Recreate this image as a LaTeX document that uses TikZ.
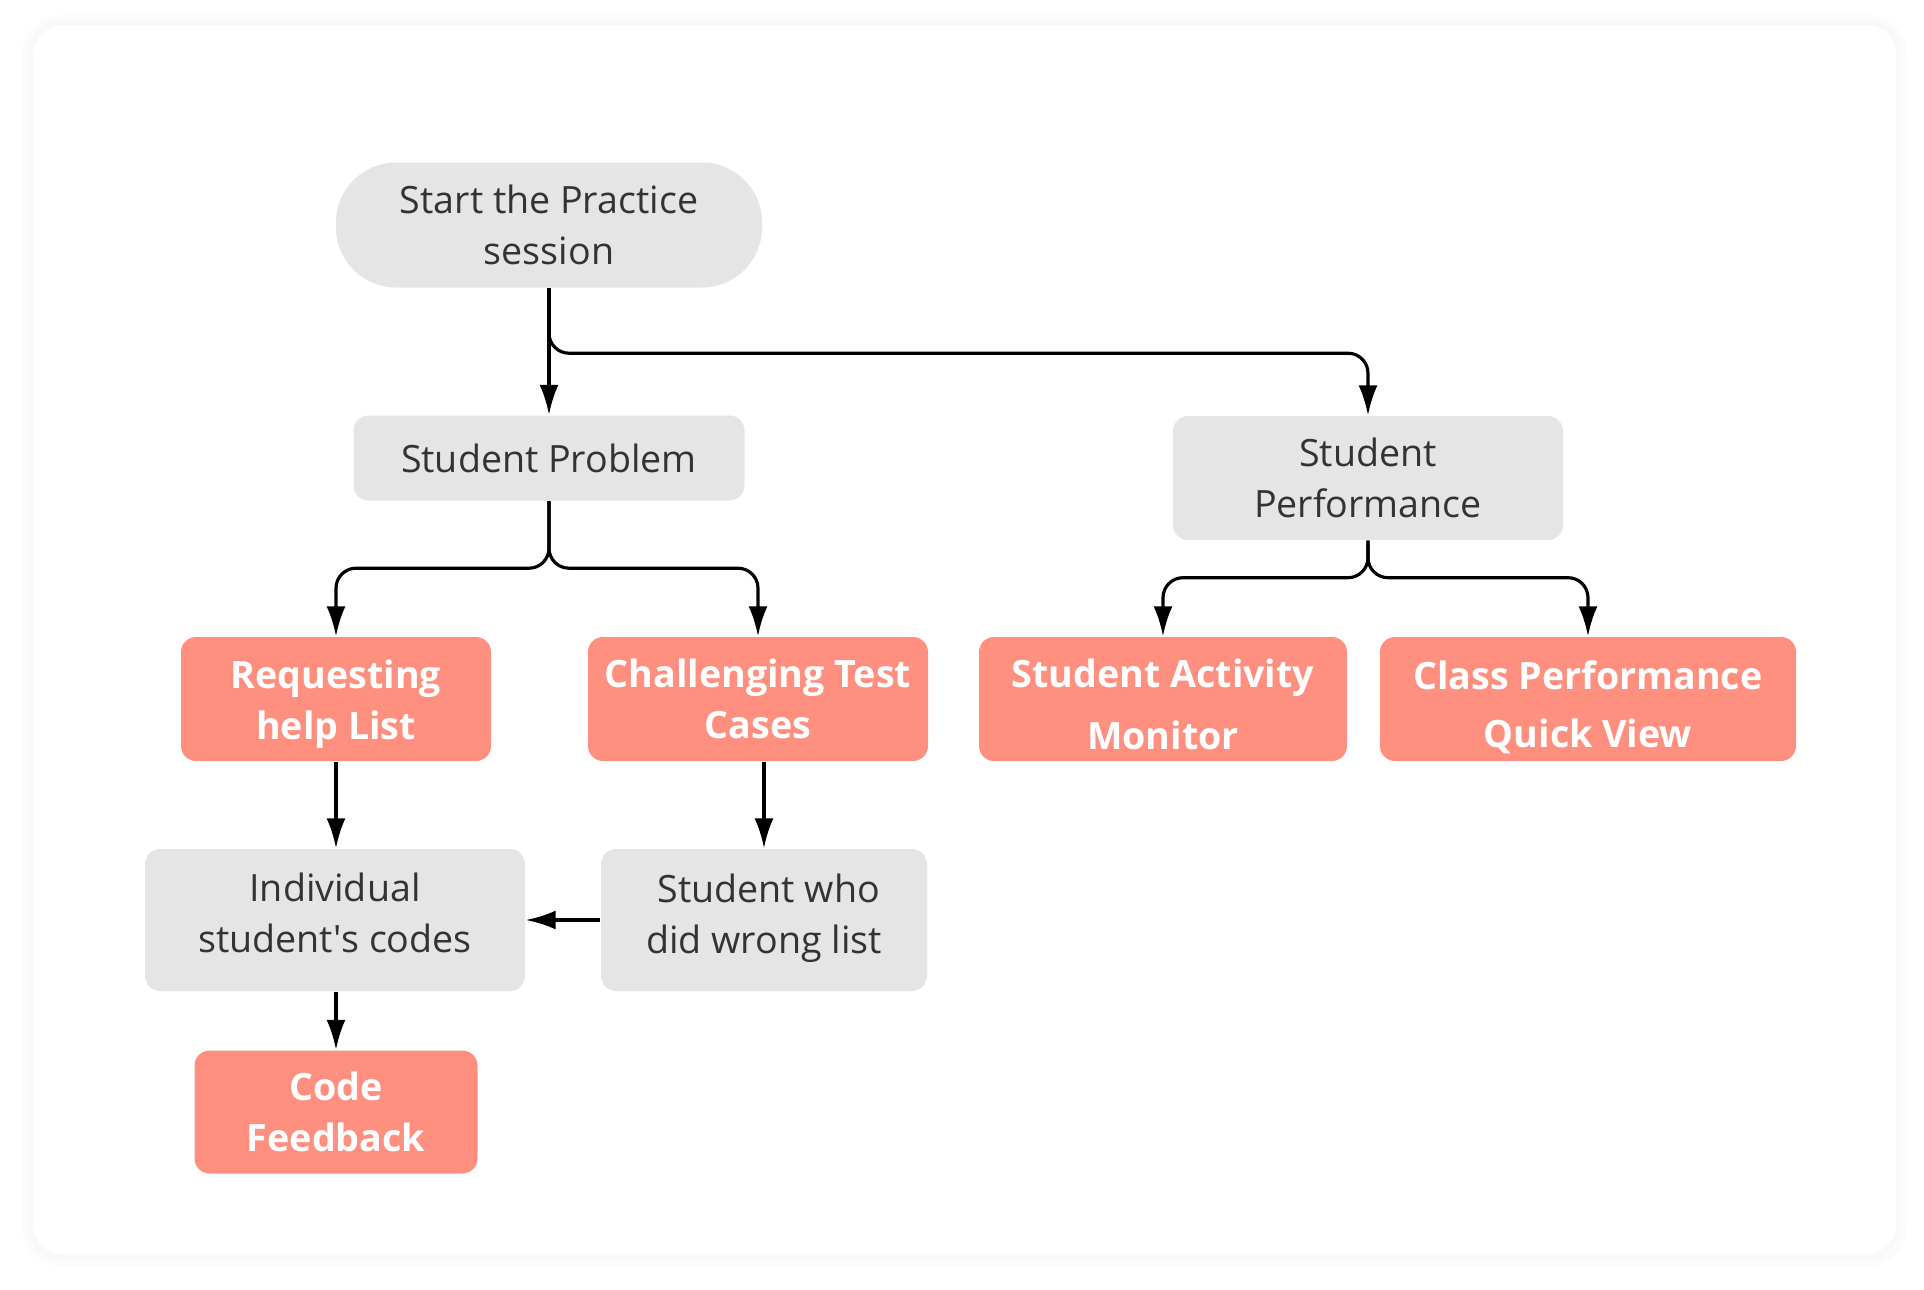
\documentclass[tikz,border=0pt]{standalone}
\usepackage{fontspec}
\setmainfont{Open Sans}
\usepackage{xcolor}
\definecolor{boxgray}{HTML}{E5E5E5}
\definecolor{boxsalmon}{HTML}{FF9080}
\definecolor{txtdark}{HTML}{333333}
\usetikzlibrary{arrows.meta,calc}

\begin{document}
\begin{tikzpicture}[
    grybox/.style={rectangle, rounded corners=1.5mm, fill=boxgray, text=txtdark,
      font=\fontsize{10.7}{14.6}\selectfont, align=center, inner sep=0pt},
    redbox/.style={rectangle, rounded corners=1.5mm, fill=boxsalmon, text=white,
      font=\fontsize{10.7}{14.6}\selectfont\bfseries, align=center, inner sep=0pt},
    pill/.style={grybox, rounded corners=6mm},
    arr/.style={-{Latex[length=3mm,width=1.9mm]}, line width=0.9pt, black},
    brarr/.style={arr, rounded corners=2mm}
  ]
    \useasboundingbox (0,0) rectangle (19.24,-12.90);
    \fill[white] (0,0) rectangle (19.24,-12.90);
    % card with soft shadow
    \fill[black!1.5, rounded corners=4mm] (0.22,-0.15) rectangle (19.07,-12.66);
    \fill[black!2.5, rounded corners=3.5mm] (0.28,-0.20) rectangle (19.01,-12.60);
    \fill[white, rounded corners=3mm] (0.33,-0.25) rectangle (18.96,-12.54);

    % top
    \node[pill, minimum width=4.26cm, minimum height=1.25cm] (start) at (5.49,-2.25)
      {Start the Practice\\session};

    % second row
    \node[grybox, minimum width=3.91cm, minimum height=0.85cm] (sprob) at (5.49,-4.58)
      {Student Problem};
    \node[grybox, minimum width=3.90cm, minimum height=1.24cm] (sperf) at (13.68,-4.78)
      {Student\\Performance};

    % salmon row
    \node[redbox, minimum width=3.10cm, minimum height=1.24cm] (reqhelp) at (3.36,-6.99)
      {\rule{0pt}{11pt}Requesting\\help List};
    \node[redbox, minimum width=3.40cm, minimum height=1.24cm] (chall) at (7.58,-6.99)
      {Challenging Test\\Cases};
    \node[redbox, minimum width=3.68cm, minimum height=1.24cm] (sact) at (11.63,-6.99)
      {\rule{0pt}{11pt}Student Activity\\[3pt]Monitor};
    \node[redbox, minimum width=4.16cm, minimum height=1.24cm] (cperf) at (15.88,-6.99)
      {\rule{0pt}{13pt}Class Performance\\[2pt]Quick View};

    % lower rows
    \node[grybox, minimum width=3.80cm, minimum height=1.42cm] (indiv) at (3.35,-9.20)
      {Individual\\student\textquotesingle s codes\\[-10.4pt]};
    \node[grybox, minimum width=3.26cm, minimum height=1.42cm] (swrong) at (7.64,-9.20)
      {\ Student who\\did wrong list\\[-11pt]};
    \node[redbox, minimum width=2.83cm, minimum height=1.23cm] (codefb) at (3.36,-11.12)
      {Code\\Feedback};

    % connectors
    \draw[arr] (start.south) -- (sprob.north);
    \draw[brarr] (start.south) -- ++(0,-0.65) -| (sperf.north);
    \draw[brarr] (sprob.south) -- ++(0,-0.67) -| (reqhelp.north);
    \draw[brarr] (sprob.south) -- ++(0,-0.67) -| (chall.north);
    \draw[brarr] (sperf.south) -- ++(0,-0.37) -| (sact.north);
    \draw[brarr] (sperf.south) -- ++(0,-0.37) -| (cperf.north);
    \draw[arr] (reqhelp.south) -- (reqhelp.south |- indiv.north);
    \draw[arr] (swrong.north |- chall.south) -- (swrong.north);
    \draw[arr] (swrong.west) -- (indiv.east);
    \draw[arr] (indiv.south -| codefb.north) -- (codefb.north);
  \end{tikzpicture}
\end{document}
